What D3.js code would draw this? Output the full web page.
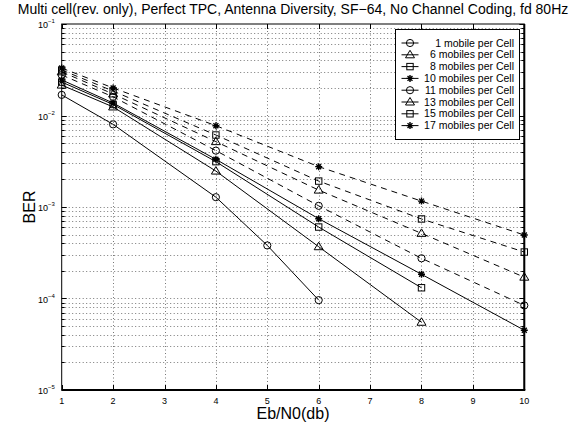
<!DOCTYPE html>
<html>
<head>
<meta charset="utf-8">
<script src="https://cdn.jsdelivr.net/npm/d3@7"></script>
<style>
  body { margin: 0; background: #fff; }
  text { font-family: "Liberation Sans", Arial, sans-serif; fill: #000; }
</style>
</head>
<body>
<div id="chart"></div>
<script>
// chart data
var seriesNames = ["1 mobile per Cell", "6 mobiles per Cell", "8 mobiles per Cell", "10 mobiles per Cell",
                   "11 mobiles per Cell", "13 mobiles per Cell", "15 mobiles per Cell", "17 mobiles per Cell"];
var markers = ["circle", "triangle", "square", "star", "circle", "triangle", "square", "star"];
var dashed = [false, false, false, false, true, true, true, true];

var ebn0_1 = [1, 2, 4, 5, 6];
var ber_1 = [0.0168, 0.0080, 0.00128, 0.00038, 0.000096];
var ebn0_6 = [1, 2, 4, 6, 8];
var ber_6 = [0.0215, 0.0124, 0.00247, 0.000368, 0.000055];
var ebn0_8 = [1, 2, 4, 6, 8];
var ber_8 = [0.0232, 0.0132, 0.00313, 0.000604, 0.000131];
var ebn0_10 = [1, 2, 4, 6, 8, 10];
var ber_10 = [0.0245, 0.0137, 0.00332, 0.000745, 0.000184, 0.000045];
var ber_11 = [0.0277, 0.0160, 0.00413, 0.00103, 0.000275, 0.000084];
var ber_13 = [0.0300, 0.0172, 0.00518, 0.00153, 0.000515, 0.000171];
var ber_15 = [0.0314, 0.0185, 0.00612, 0.00192, 0.00074, 0.000322];
var ber_17 = [0.0330, 0.0200, 0.00774, 0.00276, 0.00116, 0.000494];

var xTicks = [1, 2, 3, 4, 5, 6, 7, 8, 9, 10];
var yExps = [-1, -2, -3, -4, -5];

var allX = [ebn0_1, ebn0_6, ebn0_8, ebn0_10, ebn0_10, ebn0_10, ebn0_10, ebn0_10];
var allY = [ber_1, ber_6, ber_8, ber_10, ber_11, ber_13, ber_15, ber_17];

var data = seriesNames.map(function(name, i) {
  return {
    name: name, marker: markers[i], dashed: dashed[i],
    values: allX[i].map(function(x, j) { return {x: x, y: allY[i][j]}; })
  };
});

var width = 584, height = 425;
// plot box (note: "top" is a reserved window global, so use p-prefixed names)
var pLeft = 61.7, pRight = 524.3, pTop = 24, pBottom = 390;

var svg = d3.select("#chart").append("svg")
  .attr("width", width)
  .attr("height", height);

var xScale = d3.scaleLinear().domain([1, 10]).range([pLeft, pRight]);
var yScale = d3.scaleLog().domain([1e-5, 1e-1]).range([pBottom, pTop]);

/* grid */
var grid = svg.append("g").attr("class", "grid")
  .attr("stroke", "#777").attr("stroke-width", 1).attr("stroke-dasharray", "1,2.5");

xTicks.slice(1, -1).forEach(function(t) {
  grid.append("line")
    .attr("x1", Math.round(xScale(t)) + 0.5).attr("x2", Math.round(xScale(t)) + 0.5)
    .attr("y1", pTop).attr("y2", pBottom);
});

var minorY = [];
for (var e = -5; e < -1; e++) {
  for (var k = 1; k < 10; k++) minorY.push(k * Math.pow(10, e));
}
minorY.filter(function(v) { return v > 1.01e-5; }).forEach(function(v) {
  grid.append("line")
    .attr("x1", pLeft).attr("x2", pRight)
    .attr("y1", Math.round(yScale(v)) + 0.5).attr("y2", Math.round(yScale(v)) + 0.5);
});

/* ticks (inward, all four sides) */
var ticks = svg.append("g").attr("stroke", "#000").attr("stroke-width", 1);
xTicks.forEach(function(t) {
  var x = Math.round(xScale(t)) + 0.5;
  ticks.append("line").attr("x1", x).attr("x2", x).attr("y1", pBottom).attr("y2", pBottom - 5);
  ticks.append("line").attr("x1", x).attr("x2", x).attr("y1", pTop).attr("y2", pTop + 5);
});
minorY.concat([1e-1]).forEach(function(v) {
  var y = Math.round(yScale(v)) + 0.5;
  var major = Math.abs(Math.log10(v) - Math.round(Math.log10(v))) < 1e-6;
  var len = major ? 5 : 3;
  ticks.append("line").attr("x1", pLeft).attr("x2", pLeft + len).attr("y1", y).attr("y2", y);
  ticks.append("line").attr("x1", pRight).attr("x2", pRight - len).attr("y1", y).attr("y2", y);
});

/* box */
svg.append("rect")
  .attr("x", pLeft).attr("y", pTop)
  .attr("width", pRight - pLeft).attr("height", pBottom - pTop)
  .attr("fill", "none").attr("stroke", "#000").attr("stroke-width", 1);
svg.append("line").attr("x1", pLeft).attr("x2", pRight + 1).attr("y1", pBottom).attr("y2", pBottom)
  .attr("stroke", "#000").attr("stroke-width", 2);
svg.append("line").attr("x1", pRight).attr("x2", pRight).attr("y1", pTop).attr("y2", pBottom)
  .attr("stroke", "#000").attr("stroke-width", 2);

/* tick labels */
xTicks.forEach(function(t) {
  svg.append("text")
    .attr("x", xScale(t)).attr("y", 404)
    .attr("text-anchor", "middle")
    .style("font-size", "9px")
    .text(t);
});
yExps.forEach(function(e) {
  var y = yScale(Math.pow(10, e));
  svg.append("text")
    .attr("x", 48).attr("y", y + 4)
    .attr("text-anchor", "end")
    .style("font-size", "9px")
    .text("10");
  svg.append("text")
    .attr("x", 48).attr("y", y - 1)
    .style("font-size", "6px")
    .text("\u2212" + (-e));
});

/* title and axis labels */
svg.append("text")
  .attr("x", (pLeft + pRight) / 2).attr("y", 14)
  .attr("text-anchor", "middle")
  .style("font-size", "14px")
  .text("Multi cell(rev. only), Perfect TPC, Antenna Diversity, SF\u221264, No Channel Coding, fd 80Hz");

svg.append("text")
  .attr("x", (pLeft + pRight) / 2).attr("y", 419)
  .attr("text-anchor", "middle")
  .style("font-size", "16px")
  .text("Eb/N0(db)");

svg.append("text")
  .attr("transform", "translate(35," + ((pTop + pBottom) / 2) + ") rotate(-90)")
  .attr("text-anchor", "middle")
  .style("font-size", "16px")
  .text("BER");

/* lines and markers */
var line = d3.line()
  .x(d => xScale(d.x))
  .y(d => yScale(d.y));

function drawMarker(g, type, x, y) {
  if (type === "circle") {
    g.append("circle").attr("cx", x).attr("cy", y).attr("r", 3.6)
      .attr("fill", "none").attr("stroke", "#000").attr("stroke-width", 1);
  } else if (type === "triangle") {
    g.append("path")
      .attr("d", "M" + x + "," + (y - 4.5) + "L" + (x + 4.5) + "," + (y + 3) + "L" + (x - 4.5) + "," + (y + 3) + "Z")
      .attr("fill", "none").attr("stroke", "#000").attr("stroke-width", 1);
  } else if (type === "square") {
    g.append("rect").attr("x", x - 3.2).attr("y", y - 3.2).attr("width", 6.4).attr("height", 6.4)
      .attr("fill", "none").attr("stroke", "#000").attr("stroke-width", 1);
  } else {
    var p = "";
    [0, 45, 90, 135].forEach(function(a) {
      var r = a * Math.PI / 180, dx = 3.5 * Math.cos(r), dy = 3.5 * Math.sin(r);
      p += "M" + (x - dx) + "," + (y - dy) + "L" + (x + dx) + "," + (y + dy);
    });
    g.append("path").attr("d", p).attr("stroke", "#000").attr("stroke-width", 1.4);
  }
}

var lines = svg.append("g").attr("class", "lines");
data.forEach(function(s) {
  lines.append("path")
    .attr("d", line(s.values))
    .attr("fill", "none")
    .attr("stroke", "#000")
    .attr("stroke-width", 1)
    .attr("stroke-dasharray", s.dashed ? "6,5" : null);
  s.values.forEach(function(d) {
    drawMarker(lines, s.marker, xScale(d.x), yScale(d.y));
  });
});

/* legend */
var legend = svg.append("g").attr("class", "legend");
legend.append("rect")
  .attr("x", 395.5).attr("y", 29.5)
  .attr("width", 124).attr("height", 110)
  .attr("fill", "#fff").attr("stroke", "#000").attr("stroke-width", 1);
data.forEach(function(s, i) {
  var y = 43 + i * 11.8;
  legend.append("line")
    .attr("x1", 401.5).attr("x2", 418.5).attr("y1", y).attr("y2", y)
    .attr("stroke", "#000").attr("stroke-width", 1);
  drawMarker(legend, s.marker, 410, y);
  legend.append("text")
    .attr("x", 514).attr("y", y + 3.5)
    .attr("text-anchor", "end")
    .style("font-size", "10.5px")
    .text(s.name);
});
</script>
</body>
</html>
